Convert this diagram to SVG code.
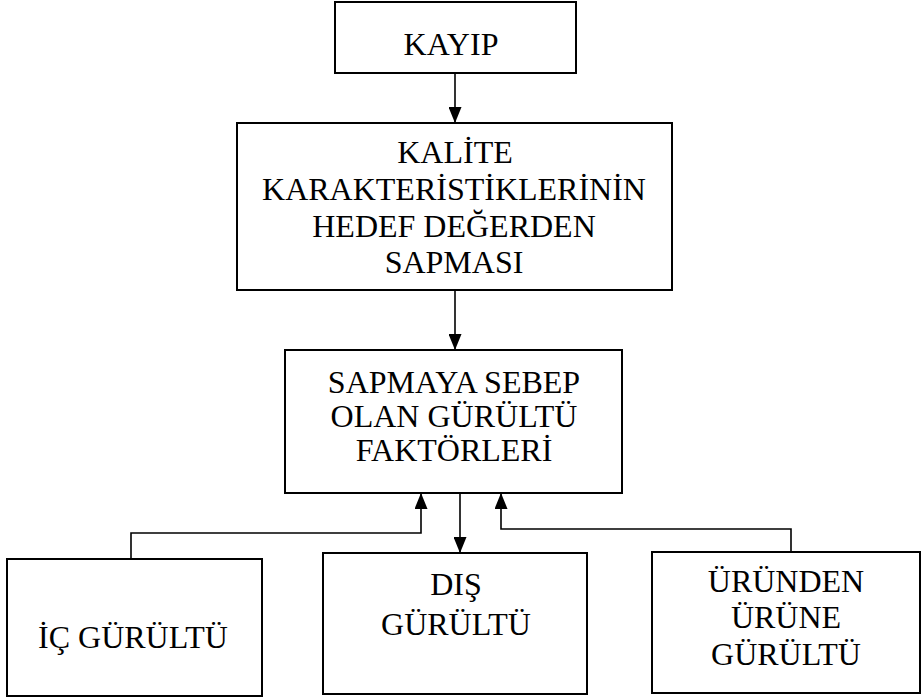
<svg xmlns="http://www.w3.org/2000/svg" width="922" height="700" viewBox="0 0 922 700">
  <style>
    .box { fill: #ffffff; stroke: #000000; stroke-width: 2; }
    .lbl { font-family: "Liberation Serif", "Times New Roman", serif; font-size: 32px; fill: #000000; text-anchor: middle; }
    .wire { fill: none; stroke: #000000; stroke-width: 1.6; }
  </style>
  <defs>
    <marker id="arrow" markerUnits="userSpaceOnUse" viewBox="0 0 16 13" markerWidth="16" markerHeight="13" refX="16" refY="6.5" orient="auto">
      <path d="M0,0 L16,6.5 L0,13 Z" fill="#000000"/>
    </marker>
  </defs>
  <rect width="922" height="700" fill="#ffffff"/>

  <g id="connectors">
    <path class="wire" d="M455,73 V123" marker-end="url(#arrow)"/>
    <path class="wire" d="M455,290 V350" marker-end="url(#arrow)"/>
    <path class="wire" d="M131,559 V533 H421 V493" marker-end="url(#arrow)"/>
    <path class="wire" d="M460,493 V553" marker-end="url(#arrow)"/>
    <path class="wire" d="M791,552 V529 H501 V493" marker-end="url(#arrow)"/>
  </g>

  <g id="kayip">
    <rect class="box" x="335" y="2" width="241" height="71"/>
    <text class="lbl" x="451" y="55">KAYIP</text>
  </g>

  <g id="sapma">
    <rect class="box" x="237" y="123" width="435" height="167"/>
    <text class="lbl" x="455" y="163">KALİTE</text>
    <text class="lbl" x="454" y="200">KARAKTERİSTİKLERİNİN</text>
    <text class="lbl" x="454" y="237">HEDEF DEĞERDEN</text>
    <text class="lbl" x="454" y="273">SAPMASI</text>
  </g>

  <g id="gurultu-faktorleri">
    <rect class="box" x="285" y="350" width="337" height="143"/>
    <text class="lbl" x="454" y="393">SAPMAYA SEBEP</text>
    <text class="lbl" x="454" y="427">OLAN GÜRÜLTÜ</text>
    <text class="lbl" x="454" y="461">FAKTÖRLERİ</text>
  </g>

  <g id="ic-gurultu">
    <rect class="box" x="7" y="559" width="255" height="137"/>
    <text class="lbl" x="133" y="648">İÇ GÜRÜLTÜ</text>
  </g>

  <g id="dis-gurultu">
    <rect class="box" x="323" y="553" width="264" height="141"/>
    <text class="lbl" x="456" y="595">DIŞ</text>
    <text class="lbl" x="456" y="635">GÜRÜLTÜ</text>
  </g>

  <g id="urunden-urune">
    <rect class="box" x="652" y="552" width="268" height="141"/>
    <text class="lbl" x="786" y="592">ÜRÜNDEN</text>
    <text class="lbl" x="786" y="628">ÜRÜNE</text>
    <text class="lbl" x="786" y="665">GÜRÜLTÜ</text>
  </g>
</svg>
